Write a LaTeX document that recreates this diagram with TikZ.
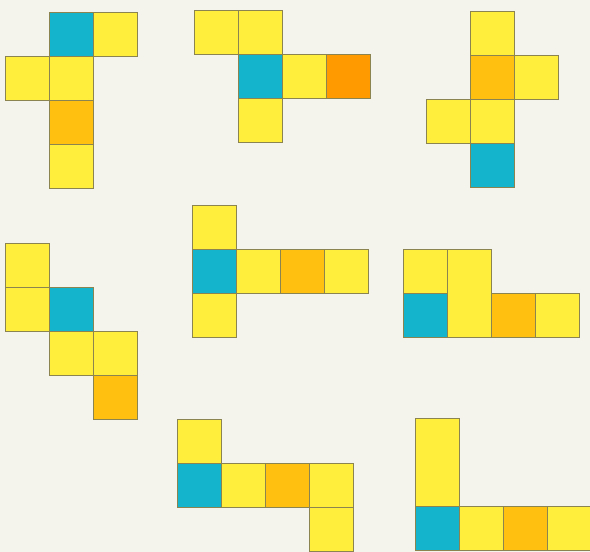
\documentclass[tikz,border=0pt]{standalone}
\usepackage{tikz}
\definecolor{bgc}{HTML}{F4F3EC}
\definecolor{yel}{HTML}{FFEE3C}
\definecolor{blu}{HTML}{14B4CC}
\definecolor{ora}{HTML}{FFC010}
\definecolor{dor}{HTML}{FF9A00}
\definecolor{edg}{HTML}{8C8450}
\tikzset{
  cellbox/.style={draw=edg, line width=0.9pt},
}
% \mycell{color}{col}{row}[height in cells]
\newcommand\mycell[4][1]{\filldraw[cellbox, fill=#2] ({44*(#3)},{44*(#4)}) rectangle ++(44,{44*(#1)});}
\begin{document}
\begin{tikzpicture}[x=1pt,y=-1pt]
\fill[bgc] (0,0) rectangle (590,552);
\useasboundingbox (0,0) rectangle (590,552);
\begin{scope}
\clip (0,0) rectangle (590,552);
% net 1
\begin{scope}[shift={(5,12)}]
\mycell{blu}{1}{0}\mycell{yel}{2}{0}\mycell{yel}{0}{1}\mycell{yel}{1}{1}\mycell{ora}{1}{2}\mycell{yel}{1}{3}
\end{scope}
% net 2
\begin{scope}[shift={(194,10)}]
\mycell{yel}{0}{0}\mycell{yel}{1}{0}\mycell{blu}{1}{1}\mycell{yel}{2}{1}\mycell{dor}{3}{1}\mycell{yel}{1}{2}
\end{scope}
% net 3
\begin{scope}[shift={(426,11)}]
\mycell{yel}{1}{0}\mycell{ora}{1}{1}\mycell{yel}{2}{1}\mycell{yel}{0}{2}\mycell{yel}{1}{2}\mycell{blu}{1}{3}
\end{scope}
% net 4
\begin{scope}[shift={(5,243)}]
\mycell{yel}{0}{0}\mycell{yel}{0}{1}\mycell{blu}{1}{1}\mycell{yel}{1}{2}\mycell{yel}{2}{2}\mycell{ora}{2}{3}
\end{scope}
% net 5
\begin{scope}[shift={(192,205)}]
\mycell{yel}{0}{0}\mycell{blu}{0}{1}\mycell{yel}{1}{1}\mycell{ora}{2}{1}\mycell{yel}{3}{1}\mycell{yel}{0}{2}
\end{scope}
% net 6
\begin{scope}[shift={(403,249)}]
\mycell{yel}{0}{0}\mycell[2]{yel}{1}{0}\mycell{blu}{0}{1}\mycell{ora}{2}{1}\mycell{yel}{3}{1}
\end{scope}
% net 7
\begin{scope}[shift={(177,419)}]
\mycell{yel}{0}{0}\mycell{blu}{0}{1}\mycell{yel}{1}{1}\mycell{ora}{2}{1}\mycell{yel}{3}{1}\mycell{yel}{3}{2}
\end{scope}
% net 8
\begin{scope}[shift={(415,418)}]
\mycell[2]{yel}{0}{0}\mycell{blu}{0}{2}\mycell{yel}{1}{2}\mycell{ora}{2}{2}\mycell{yel}{3}{2}
\end{scope}
\end{scope}
\end{tikzpicture}
\end{document}
